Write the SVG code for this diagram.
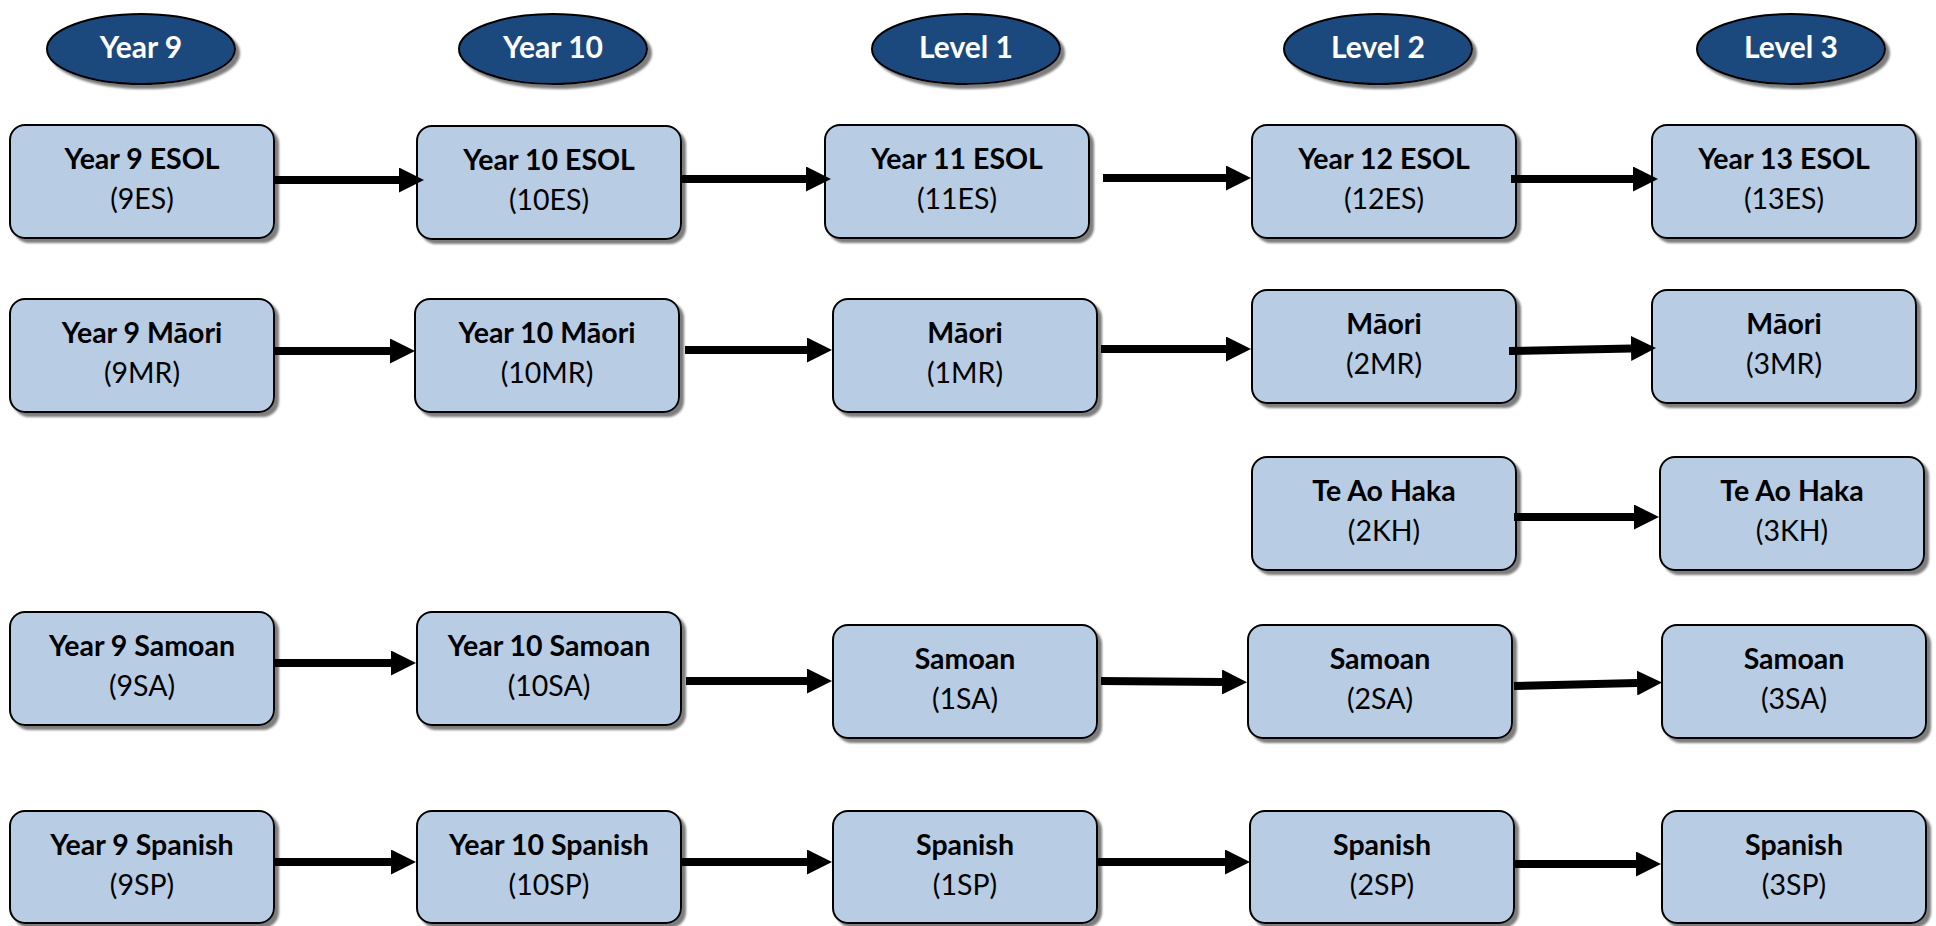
<svg xmlns="http://www.w3.org/2000/svg" width="1936" height="926" viewBox="0 0 1936 926">
<style>
.box{fill:#B8CCE4;stroke:#000;stroke-width:2;filter:url(#sh)}
.hdr{fill:#1F497D;stroke:#000;stroke-width:2;filter:url(#sh)}
.t1{font-family:Lato,"Liberation Sans",sans-serif;font-weight:bold;font-size:28.5px;fill:#000;text-anchor:middle}
.t2{font-family:Lato,"Liberation Sans",sans-serif;font-size:28.5px;fill:#000;text-anchor:middle}
.th{font-family:Lato,"Liberation Sans",sans-serif;font-weight:bold;font-size:30px;fill:#fff;text-anchor:middle}
.ar{stroke:#000;stroke-width:8;fill:none;marker-end:url(#ah)}
</style>
<defs>
<filter id="sh" x="-10%" y="-10%" width="130%" height="130%">
<feDropShadow dx="4" dy="4" stdDeviation="1.2" flood-color="#707070" flood-opacity="0.9"/>
</filter>
<marker id="ah" viewBox="0 0 25 25" refX="0" refY="12.5" markerWidth="25" markerHeight="25" markerUnits="userSpaceOnUse" orient="auto">
<path d="M0,0 L25,12.5 L0,25 z" fill="#000"/>
</marker>
</defs>
<rect width="1936" height="926" fill="#fff"/>

<g id="h-year9"><ellipse class="hdr" cx="141" cy="49" rx="94" ry="35"/><text class="th" x="141" y="58">Year 9</text></g>
<g id="h-year10"><ellipse class="hdr" cx="553" cy="49" rx="94" ry="35"/><text class="th" x="553" y="58">Year 10</text></g>
<g id="h-level1"><ellipse class="hdr" cx="966" cy="49" rx="94" ry="35"/><text class="th" x="966" y="58">Level 1</text></g>
<g id="h-level2"><ellipse class="hdr" cx="1378" cy="49" rx="94" ry="35"/><text class="th" x="1378" y="58">Level 2</text></g>
<g id="h-level3"><ellipse class="hdr" cx="1791" cy="49" rx="94" ry="35"/><text class="th" x="1791" y="58">Level 3</text></g>

<g id="n9ES"><rect class="box" x="10" y="125" width="264" height="113" rx="15"/><text class="t1" x="142" y="169">Year 9 ESOL</text><text class="t2" x="142" y="209">(9ES)</text></g>
<g id="n10ES"><rect class="box" x="417" y="126" width="264" height="113" rx="15"/><text class="t1" x="549" y="170">Year 10 ESOL</text><text class="t2" x="549" y="210">(10ES)</text></g>
<g id="n11ES"><rect class="box" x="825" y="125" width="264" height="113" rx="15"/><text class="t1" x="957" y="169">Year 11 ESOL</text><text class="t2" x="957" y="209">(11ES)</text></g>
<g id="n12ES"><rect class="box" x="1252" y="125" width="264" height="113" rx="15"/><text class="t1" x="1384" y="169">Year 12 ESOL</text><text class="t2" x="1384" y="209">(12ES)</text></g>
<g id="n13ES"><rect class="box" x="1652" y="125" width="264" height="113" rx="15"/><text class="t1" x="1784" y="169">Year 13 ESOL</text><text class="t2" x="1784" y="209">(13ES)</text></g>

<g id="n9MR"><rect class="box" x="10" y="299" width="264" height="113" rx="15"/><text class="t1" x="142" y="343">Year 9 Māori</text><text class="t2" x="142" y="383">(9MR)</text></g>
<g id="n10MR"><rect class="box" x="415" y="299" width="264" height="113" rx="15"/><text class="t1" x="547" y="343">Year 10 Māori</text><text class="t2" x="547" y="383">(10MR)</text></g>
<g id="n1MR"><rect class="box" x="833" y="299" width="264" height="113" rx="15"/><text class="t1" x="965" y="343">Māori</text><text class="t2" x="965" y="383">(1MR)</text></g>
<g id="n2MR"><rect class="box" x="1252" y="290" width="264" height="113" rx="15"/><text class="t1" x="1384" y="334">Māori</text><text class="t2" x="1384" y="374">(2MR)</text></g>
<g id="n3MR"><rect class="box" x="1652" y="290" width="264" height="113" rx="15"/><text class="t1" x="1784" y="334">Māori</text><text class="t2" x="1784" y="374">(3MR)</text></g>

<g id="n2KH"><rect class="box" x="1252" y="457" width="264" height="113" rx="15"/><text class="t1" x="1384" y="501">Te Ao Haka</text><text class="t2" x="1384" y="541">(2KH)</text></g>
<g id="n3KH"><rect class="box" x="1660" y="457" width="264" height="113" rx="15"/><text class="t1" x="1792" y="501">Te Ao Haka</text><text class="t2" x="1792" y="541">(3KH)</text></g>

<g id="n9SA"><rect class="box" x="10" y="612" width="264" height="113" rx="15"/><text class="t1" x="142" y="656">Year 9 Samoan</text><text class="t2" x="142" y="696">(9SA)</text></g>
<g id="n10SA"><rect class="box" x="417" y="612" width="264" height="113" rx="15"/><text class="t1" x="549" y="656">Year 10 Samoan</text><text class="t2" x="549" y="696">(10SA)</text></g>
<g id="n1SA"><rect class="box" x="833" y="625" width="264" height="113" rx="15"/><text class="t1" x="965" y="669">Samoan</text><text class="t2" x="965" y="709">(1SA)</text></g>
<g id="n2SA"><rect class="box" x="1248" y="625" width="264" height="113" rx="15"/><text class="t1" x="1380" y="669">Samoan</text><text class="t2" x="1380" y="709">(2SA)</text></g>
<g id="n3SA"><rect class="box" x="1662" y="625" width="264" height="113" rx="15"/><text class="t1" x="1794" y="669">Samoan</text><text class="t2" x="1794" y="709">(3SA)</text></g>

<g id="n9SP"><rect class="box" x="10" y="811" width="264" height="112" rx="15"/><text class="t1" x="142" y="855">Year 9 Spanish</text><text class="t2" x="142" y="895">(9SP)</text></g>
<g id="n10SP"><rect class="box" x="417" y="811" width="264" height="112" rx="15"/><text class="t1" x="549" y="855">Year 10 Spanish</text><text class="t2" x="549" y="895">(10SP)</text></g>
<g id="n1SP"><rect class="box" x="833" y="811" width="264" height="112" rx="15"/><text class="t1" x="965" y="855">Spanish</text><text class="t2" x="965" y="895">(1SP)</text></g>
<g id="n2SP"><rect class="box" x="1250" y="811" width="264" height="112" rx="15"/><text class="t1" x="1382" y="855">Spanish</text><text class="t2" x="1382" y="895">(2SP)</text></g>
<g id="n3SP"><rect class="box" x="1662" y="811" width="264" height="112" rx="15"/><text class="t1" x="1794" y="855">Spanish</text><text class="t2" x="1794" y="895">(3SP)</text></g>

<g id="connectors">
<line class="ar" x1="275" y1="180" x2="399" y2="180"/>
<line class="ar" x1="682" y1="179" x2="806" y2="179"/>
<line class="ar" x1="1103" y1="178" x2="1226" y2="178"/>
<line class="ar" x1="1511" y1="179" x2="1633" y2="179"/>

<line class="ar" x1="275" y1="351" x2="390" y2="351"/>
<line class="ar" x1="685" y1="350" x2="807" y2="350"/>
<line class="ar" x1="1101" y1="349" x2="1226" y2="349"/>
<line class="ar" x1="1509" y1="351" x2="1631" y2="348.5"/>

<line class="ar" x1="1514" y1="517" x2="1634" y2="517"/>

<line class="ar" x1="275" y1="663" x2="391" y2="663"/>
<line class="ar" x1="686" y1="681" x2="807" y2="681"/>
<line class="ar" x1="1101" y1="681" x2="1222" y2="682"/>
<line class="ar" x1="1514" y1="686" x2="1637" y2="683"/>

<line class="ar" x1="275" y1="862" x2="391" y2="862"/>
<line class="ar" x1="682" y1="862" x2="807" y2="862"/>
<line class="ar" x1="1098" y1="862" x2="1225" y2="862"/>
<line class="ar" x1="1514" y1="864" x2="1636" y2="864"/>
</g>
</svg>
